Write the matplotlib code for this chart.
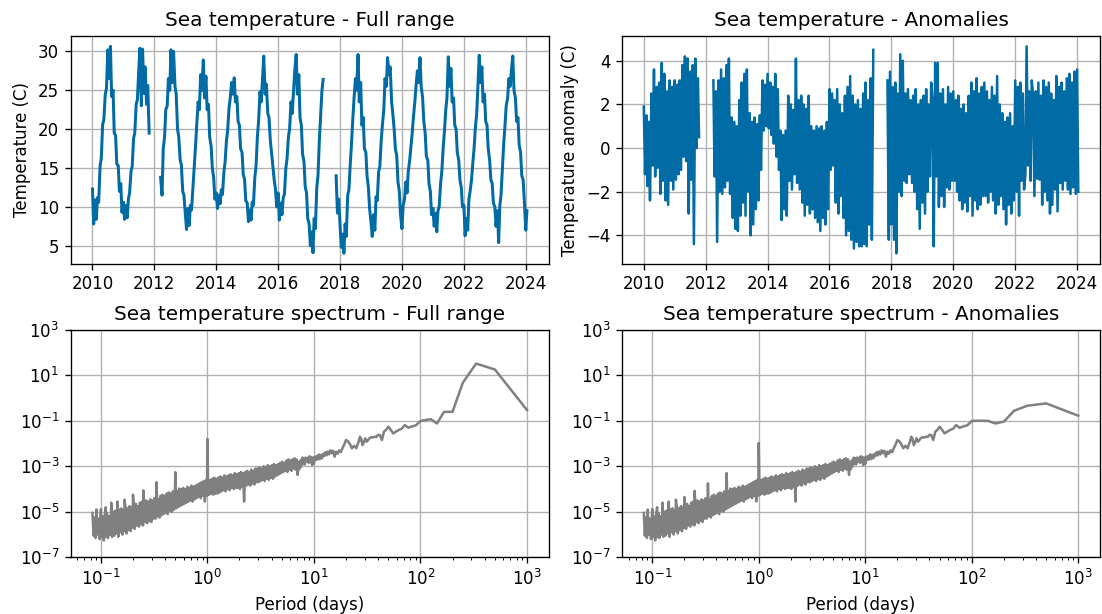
import numpy as np
import pandas as pd
import matplotlib
matplotlib.use("Agg")  # no display in the sandbox

import matplotlib.pyplot as plt
import matplotlib.dates as mdates
from matplotlib.ticker import NullLocator

nan = np.nan

# time axis ------------
# two readings per month (1st and 15th), Jan 2010 -> mid Jan 2024
dates = pd.date_range("2010-01-01", "2024-01-15", freq="SMS")

# sea temperature (C), one row per year
temp_2010 = [12.3, 7.8, 10.9, 8.4, 11.2, 10.6, 15.3, 16.2, 20.6, 21.2, 24.5, 25.2,
             30.2, 26.5, 30.65, 24.2, 25.0, 19.5, 19.2, 15.5, 15.3, 12.0, 13.0, 9.3]
temp_2011 = [10.6, 8.4, 10.2, 8.6, 11.0, 11.8, 14.6, 15.2, 18.8, 19.5, 23.2, 23.8,
             27.6, 30.4, 23.0, 30.3, 24.6, 28.0, 23.2, 25.6, 19.5, nan, nan, nan]
temp_2012 = [nan, nan, nan, nan, nan, 13.8, 11.5, 17.5, 19.0, 22.5, 23.0, 26.5,
             25.0, 30.2, 26.0, 30.0, 25.5, 24.5, 20.0, 19.0, 16.0, 15.4, 12.0, 11.5]
temp_2013 = [9.0, 7.1, 9.8, 7.6, 10.2, 9.6, 12.5, 14.8, 17.8, 20.5, 23.5, 22.5,
             27.0, 25.0, 28.9, 24.0, 26.8, 22.5, 23.2, 19.0, 17.8, 15.0, 13.8, 11.0]
temp_2014 = [11.8, 9.8, 11.5, 10.4, 12.2, 11.6, 14.5, 15.8, 18.5, 19.8, 22.8, 24.0,
             26.0, 24.5, 26.6, 23.5, 24.2, 21.0, 20.5, 17.5, 17.0, 14.2, 13.5, 10.8]
temp_2015 = [10.5, 8.1, 9.6, 8.3, 10.6, 10.2, 13.8, 15.2, 19.0, 21.0, 24.8, 23.5,
             26.5, 29.4, 24.5, 25.8, 22.0, 21.5, 18.5, 17.0, 15.0, 13.5, 12.2, 10.0]
temp_2016 = [11.8, 8.3, 10.5, 9.0, 11.2, 11.6, 15.0, 16.2, 19.0, 20.0, 23.5, 22.0,
             25.0, 27.5, 29.6, 24.5, 27.0, 21.5, 20.5, 16.8, 15.8, 12.6, 11.8, 8.5]
temp_2017 = [7.8, 5.0, 6.8, 4.1, 8.5, 7.2, 12.5, 14.0, 18.5, 21.5, 25.0, 26.4,
             nan, nan, nan, nan, nan, nan, nan, nan, nan, 14.0, 9.2, 11.0]
temp_2018 = [7.5, 4.8, 6.5, 4.03, 7.8, 6.2, 11.5, 12.2, 15.5, 18.0, 21.5, 24.0,
             26.5, 25.0, 29.6, 23.5, 26.0, 20.5, 21.5, 17.5, 17.0, 14.0, 12.5, 9.8]
temp_2019 = [8.0, 6.2, 9.0, 7.0, 11.3, 10.8, 14.5, 15.2, 18.5, 20.5, 22.5, 26.5,
             25.5, 29.2, 27.0, 28.0, 23.5, 22.0, 20.0, 17.5, 16.5, 13.2, 12.0, 9.0]
temp_2020 = [7.2, 10.2, 11.0, 13.2, 11.8, 14.5, 16.0, 17.6, 19.5, 21.5, 23.5, 25.5,
             27.5, 26.0, 29.2, 25.5, 24.0, 21.0, 19.5, 16.5, 16.0, 13.0, 12.0, 9.0]
temp_2021 = [9.8, 7.5, 9.2, 6.8, 9.5, 10.0, 13.0, 14.5, 17.5, 19.5, 22.5, 24.0,
             29.3, 25.5, 27.8, 23.5, 24.0, 20.5, 20.0, 17.0, 16.0, 13.5, 12.5, 10.0]
temp_2022 = [10.2, 6.3, 8.5, 7.0, 11.0, 12.0, 13.5, 15.5, 17.5, 20.0, 22.0, 25.5,
             29.5, 26.0, 28.0, 23.5, 24.5, 21.0, 20.5, 17.5, 16.0, 13.5, 13.0, 10.5]
temp_2023 = [10.0, 7.5, 9.5, 5.4, 10.2, 11.5, 15.0, 18.0, 20.5, 23.0, 24.0, 26.5,
             25.5, 27.5, 29.4, 25.0, 24.0, 21.0, 21.5, 18.0, 17.0, 14.0, 13.5, 10.8]
temp_2024 = [7.0, 9.5]

# anomalies (C), same sampling
anom_2010 = [1.9, -1.2, 1.5, -1.75, 1.2, -2.4, 2.5, -0.8, 3.6, -1.3, 2.8, -0.9,
             3.0, -2.1, 3.9, -1.5, 3.4, -2.4, 2.6, -2.6, 3.1, -1.5, 2.8, -1.9]
anom_2011 = [3.1, -1.45, 2.9, -1.2, 3.1, -1.0, 3.8, -0.4, 4.2, -0.6, 4.1, -3.0,
             3.5, -1.45, 3.8, -4.4, 4.1, 0.0, 3.2, 0.5, nan, nan, nan, nan]
anom_2012 = [nan, nan, nan, nan, nan, nan, 3.1, -1.3, 2.6, -4.3, 3.1, -2.0,
             3.6, -2.1, 3.2, -1.8, 3.8, -1.5, 4.1, -2.1, 1.4, -3.2, 1.2, -3.7]
anom_2013 = [1.0, -3.8, 2.2, -3.1, 3.0, -2.5, 3.4, -3.1, 3.6, -2.0, 1.6, -4.0,
             1.2, -3.5, 1.4, -2.8, 1.1, -2.4, 1.5, -1.0, 3.1, 0.8, 2.9, 1.0]
anom_2014 = [3.4, 0.9, 3.0, 0.6, 2.8, 0.2, 3.4, -0.4, 2.7, -1.0, 0.8, -3.3,
             0.6, -2.8, 0.8, -3.1, 2.4, -1.5, 2.0, -1.9, 1.75, -1.2, 4.1, -1.6]
anom_2015 = [2.2, -1.9, 2.4, -2.5, 2.0, -3.1, 1.8, -2.6, 2.4, -3.0, 1.0, -2.8,
             0.8, -3.2, 1.0, -3.4, 0.9, -3.8, 1.0, -3.2, 0.8, -3.5, 1.2, -2.8]
anom_2016 = [2.7, -1.0, 2.5, -0.8, 2.2, -2.5, 2.7, -3.0, 2.0, -2.2, 1.6, -3.2,
             2.4, -4.0, 2.8, -3.8, 3.3, -4.2, 2.4, -4.6, 2.0, -4.3, 2.2, -4.5]
anom_2017 = [1.8, -4.5, 2.5, -4.4, 3.0, -4.5, 2.2, -3.5, 3.2, -4.2, 4.5, nan,
             nan, nan, nan, nan, nan, nan, nan, nan, nan, 3.1, -4.2, 3.5]
anom_2018 = [-3.5, 2.8, -4.2, 3.0, -4.82, 2.5, -2.0, 4.3, -2.2, 4.0, -1.5, 2.5,
             -1.6, 2.7, -1.2, 2.2, -1.6, 2.4, -2.0, 2.7, -2.8, 2.0, -3.7, 2.2]
anom_2019 = [-2.5, 2.4, -3.0, 2.7, -2.0, 2.0, -1.3, 3.0, 2.2, -4.5, 3.9, -1.3,
             3.9, -2.7, 2.5, -2.2, 2.7, -2.7, 2.0, -1.8, 2.8, -1.9, 2.5, -1.5]
anom_2020 = [2.6, -1.5, 2.2, -2.0, 2.4, -2.4, 1.8, -2.8, 2.0, -2.5, 1.6, -2.9,
             2.4, -2.2, 3.0, -3.1, 2.6, -2.4, 3.2, -2.8, 2.5, -2.6, 2.8, -2.2]
anom_2021 = [3.0, -2.2, 2.6, -2.5, 2.2, -2.0, 2.8, -2.4, 2.4, -3.0, 3.3, -2.6,
             2.0, -2.2, 1.6, -2.8, 1.2, -3.5, 1.4, -2.6, 1.6, -3.0, 1.0, -2.4]
anom_2022 = [3.1, -2.0, 2.8, -3.1, 3.0, -1.5, 2.5, -1.9, -1.2, 4.66, -0.8, 2.6,
             -1.5, 3.1, 2.4, -2.2, 2.6, -1.4, 3.0, -1.45, 2.4, -2.6, 3.1, -2.0]
anom_2023 = [2.8, -2.4, 3.0, -3.0, 2.5, -2.6, 2.2, -1.9, 3.3, -2.9, 2.8, -1.6,
             3.0, -1.9, 2.6, -1.5, 3.2, -1.9, 3.4, -2.1, 3.0, -1.8, 3.5, -2.1]
anom_2024 = [3.6, -2.0]

# spectrum -------------
# harmonic k of a 1000-day segment has period SEGMENT_DAYS / k; power given as log10
SEGMENT_DAYS = 1000
low_harmonics = list(range(1, 11))
spec_low_full = [-0.53, 1.25, 1.51, 0.67, -0.61, -0.61, -1.12, -0.93, -0.97, -1.01]
spec_low_anom = [-0.78, -0.24, -0.34, -0.56, -1.04, -1.12, -1.01, -1.0, -1.0, -1.01]

mid_harmonics = list(range(11, 41)) + list(range(42, 141, 2))
spec_mid = [-1.20, -1.25, -1.31, -1.19, -1.35, -1.41, -1.48, -1.56, -1.40, -1.26,
            -1.40, -1.48, -1.85, -1.63, -1.62, -1.72, -1.70, -1.74, -1.72, -1.76,
            -1.85, -1.92, -1.77, -1.95, -2.07, -1.80, -1.70, -1.92, -2.05, -2.21,
            -2.10, -2.21, -2.02, -1.90, -1.85, -2.05, -2.21, -2.38, -2.30, -2.45,
            -2.36, -2.58, -2.32, -2.43, -2.30, -2.48, -2.35, -2.52, -2.38, -2.55,
            -2.45, -2.65, -2.50, -2.68, -2.48, -2.70, -2.55, -2.72, -2.58, -2.90,
            -2.62, -2.95, -2.60, -2.82, -2.56, -2.85, -2.62, -2.75, -2.80, -2.62,
            -2.92, -2.66, -2.86, -2.62, -2.95, -2.72, -3.05, -2.78, -3.14, -2.82]

# dense high-frequency part, sampled evenly in log period from 2 h to ~7 days
band_periods = np.geomspace(SEGMENT_DAYS / 12000, SEGMENT_DAYS / 142, 200)
spec_band = [
    -5.05, -6.05, -5.25, -6.15, -5.15, -6.0, -5.3, -6.2, -5.1, -6.1,
    -5.2, -6.26, -5.15, -6.1, -5.05, -6.15, -5.2, -6.0, -5.05, -6.1,
    -5.0, -6.05, -4.95, -5.95, -5.05, -6.1, -4.9, -5.9, -4.85, -6.0,
    -4.95, -5.85, -4.8, -5.95, -4.85, -5.8, -4.75, -5.85, -4.8, -5.7,
    -4.7, -5.75, -4.65, -5.6, -4.75, -5.65, -4.6, -5.55, -4.55, -5.6,
    -4.65, -5.45, -4.5, -5.5, -4.55, -5.4, -4.45, -5.45, -4.5, -5.3,
    -4.4, -5.3, -4.35, -5.2, -4.45, -5.25, -4.3, -5.15, -4.25, -5.1,
    -4.3, -5.05, -4.2, -5.1, -4.15, -4.95, -4.2, -5.0, -4.1, -4.9,
    -4.05, -4.85, -4.1, -4.8, -3.98, -4.75, -4.0, -4.7, -3.95, -4.65,
    -4.0, -4.6, -3.9, -4.55, -3.95, -4.5, -3.85, -4.55, -3.9, -4.45,
    -3.85, -4.4, -3.8, -4.35, -3.75, -4.4, -3.7, -4.3, -3.65, -4.55,
    -3.6, -4.3, -3.55, -4.25, -3.6, -4.2, -3.55, -4.25, -3.5, -4.2,
    -3.55, -4.2, -3.5, -4.15, -3.45, -4.1, -3.5, -4.05, -3.4, -4.1,
    -3.45, -4.0, -3.4, -4.05, -3.35, -3.95, -3.4, -4.0, -3.3, -3.95,
    -3.35, -3.95, -3.3, -4.0, -3.25, -3.9, -3.3, -4.55, -3.25, -3.85,
    -3.2, -3.8, -3.25, -3.85, -3.15, -3.75, -3.2, -3.8, -3.1, -3.7,
    -3.1, -3.7, -3.05, -3.65, -3.1, -3.6, -3.0, -3.65, -3.05, -3.55,
    -2.95, -3.6, -3.0, -3.5, -2.95, -3.55, -2.9, -3.45, -2.95, -3.4,
    -2.9, -3.35, -2.85, -3.3, -2.8, -3.25, -2.85, -3.2, -2.75, -3.25,
    -2.7, -3.15, -2.75, -3.2, -2.7, -3.1, -2.65, -3.15, -2.7, -3.38,
]

# tidal / daily harmonics (1 day, 1/2 day, ... 1/11 day)
spike_harmonics = [1000, 2000, 3000, 4000, 5000, 6000, 7000, 8000, 9000, 10000, 11000]
spec_spike_full = [-1.80, -3.26, -3.70, -4.06, -4.25, -4.47, -4.55, -4.60, -4.80, -4.88, -4.90]
spec_spike_anom = [-1.98, -3.30, -3.75, -4.08, -4.35, -4.47, -4.55, -4.60, -4.80, -4.88, -4.90]

# style ----------------
LINE_BLUE = "#006ba4"
SPEC_GREY = "grey"


# helpers --------------
def spectrum(low, spikes):
    harmonics = np.array(low_harmonics + mid_harmonics + spike_harmonics, dtype=float)
    period = np.concatenate([SEGMENT_DAYS / harmonics, band_periods])
    power = 10.0 ** np.array(low + spec_mid + spikes + spec_band)
    order = np.argsort(period)
    return period[order], power[order]


def style_time_axis(ax):
    ax.xaxis.set_major_locator(mdates.YearLocator(2))
    ax.xaxis.set_major_formatter(mdates.DateFormatter("%Y"))
    ax.grid(True)


def style_spectrum_axis(ax):
    ax.set_ylim(1e-7, 1e3)
    ax.set_yticks([1e-7, 1e-5, 1e-3, 1e-1, 1e1, 1e3])
    ax.yaxis.set_minor_locator(NullLocator())
    ax.set_xlabel("Period (days)")
    ax.grid(True)


# main code ------------
temp = np.array(temp_2010 + temp_2011 + temp_2012 + temp_2013 + temp_2014 + temp_2015
                + temp_2016 + temp_2017 + temp_2018 + temp_2019 + temp_2020 + temp_2021
                + temp_2022 + temp_2023 + temp_2024, dtype=float)
anom = np.array(anom_2010 + anom_2011 + anom_2012 + anom_2013 + anom_2014 + anom_2015
                + anom_2016 + anom_2017 + anom_2018 + anom_2019 + anom_2020 + anom_2021
                + anom_2022 + anom_2023 + anom_2024, dtype=float)

fig, axes = plt.subplots(2, 2, figsize=(1102 / 120, 614 / 120), dpi=120)
fig.subplots_adjust(left=0.0642, right=0.9982, top=0.9414, bottom=0.0923,
                    wspace=0.1536, hspace=0.29)

ax = axes[0, 0]
ax.plot(dates, temp, color=LINE_BLUE, linewidth=1.8)
ax.set_title("Sea temperature - Full range")
ax.set_ylabel("Temperature (C)")
style_time_axis(ax)

ax = axes[0, 1]
ax.plot(dates, anom, color=LINE_BLUE, linewidth=1.5)
ax.set_title("Sea temperature - Anomalies")
ax.set_ylabel("Temperature anomaly (C)")
style_time_axis(ax)

ax = axes[1, 0]
period, power = spectrum(spec_low_full, spec_spike_full)
ax.loglog(period, power, color=SPEC_GREY, linewidth=1.5)
ax.set_title("Sea temperature spectrum - Full range")
style_spectrum_axis(ax)

ax = axes[1, 1]
period, power = spectrum(spec_low_anom, spec_spike_anom)
ax.loglog(period, power, color=SPEC_GREY, linewidth=1.5)
ax.set_title("Sea temperature spectrum - Anomalies")
style_spectrum_axis(ax)

fig.savefig("out.png", dpi=120)
plt.close(fig)
